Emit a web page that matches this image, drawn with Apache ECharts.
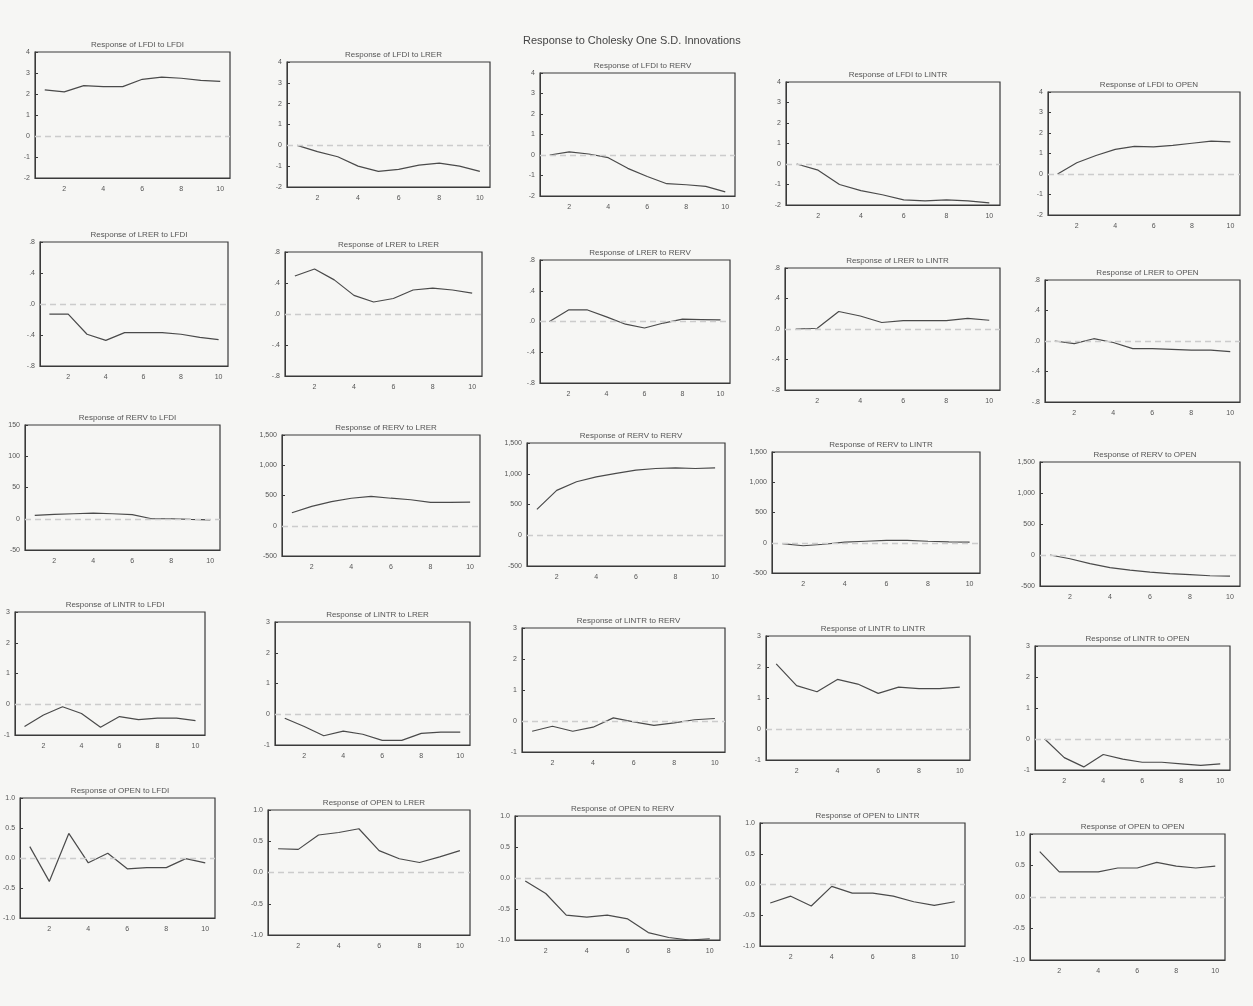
<!DOCTYPE html>
<html>
<head>
<meta charset="utf-8">
<title>Response to Cholesky One S.D. Innovations</title>
<script src="https://cdn.jsdelivr.net/npm/echarts@6/dist/echarts.min.js"></script>
<style>
  html, body { margin: 0; padding: 0; background: #f6f6f4; }
  #main { width: 1253px; height: 1006px; }
</style>
</head>
<body>
<div id="main"></div>
<script>
// periods 1..10
var periods = ['1','2','3','4','5','6','7','8','9','10'];
var variables = ['LFDI', 'LRER', 'RERV', 'LINTR', 'OPEN'];

// responses of LFDI
var lfdi_lfdi  = [2.2, 2.1, 2.4, 2.35, 2.35, 2.7, 2.8, 2.75, 2.65, 2.6];
var lfdi_lrer  = [0.0, -0.3, -0.55, -1.0, -1.25, -1.15, -0.95, -0.85, -1.0, -1.25];
var lfdi_rerv  = [0.0, 0.15, 0.05, -0.13, -0.65, -1.05, -1.4, -1.45, -1.53, -1.8];
var lfdi_lintr = [0.0, -0.3, -1.0, -1.3, -1.5, -1.75, -1.8, -1.75, -1.8, -1.9];
var lfdi_open  = [0.0, 0.55, 0.9, 1.2, 1.35, 1.32, 1.4, 1.5, 1.6, 1.57];
// responses of LRER
var lrer_lfdi  = [-0.13, -0.13, -0.39, -0.47, -0.37, -0.37, -0.37, -0.39, -0.43, -0.46];
var lrer_lrer  = [0.49, 0.58, 0.44, 0.24, 0.155, 0.2, 0.31, 0.335, 0.31, 0.27];
var lrer_rerv  = [0.0, 0.15, 0.15, 0.06, -0.035, -0.085, -0.02, 0.03, 0.025, 0.02];
var lrer_lintr = [0.0, 0.01, 0.23, 0.17, 0.085, 0.11, 0.11, 0.11, 0.14, 0.115];
var lrer_open  = [0.0, -0.035, 0.03, -0.02, -0.1, -0.1, -0.11, -0.12, -0.12, -0.14];
// responses of RERV
var rerv_lfdi  = [5.5, 7, 8, 9, 8, 6.7, 0, 0, -1, -1.7];
var rerv_lrer  = [215, 320, 400, 455, 485, 455, 430, 385, 385, 390];
var rerv_rerv  = [420, 730, 870, 950, 1005, 1060, 1085, 1095, 1085, 1095];
var rerv_lintr = [-15, -50, -25, 10, 25, 40, 40, 25, 15, 10];
var rerv_open  = [0, -60, -140, -205, -245, -275, -300, -315, -335, -340];
// responses of LINTR
var lintr_lfdi  = [-0.72, -0.35, -0.08, -0.3, -0.75, -0.4, -0.5, -0.45, -0.45, -0.53];
var lintr_lrer  = [-0.13, -0.4, -0.7, -0.55, -0.65, -0.85, -0.85, -0.62, -0.58, -0.58];
var lintr_rerv  = [-0.33, -0.17, -0.33, -0.2, 0.1, -0.03, -0.14, -0.06, 0.04, 0.08];
var lintr_lintr = [2.1, 1.4, 1.2, 1.6, 1.45, 1.15, 1.35, 1.3, 1.3, 1.35];
var lintr_open  = [0.0, -0.6, -0.9, -0.5, -0.65, -0.75, -0.75, -0.8, -0.85, -0.8];
// responses of OPEN
var open_lfdi  = [0.19, -0.39, 0.41, -0.08, 0.08, -0.18, -0.16, -0.16, -0.01, -0.08];
var open_lrer  = [0.38, 0.37, 0.6, 0.64, 0.7, 0.35, 0.22, 0.16, 0.25, 0.35];
var open_rerv  = [-0.05, -0.25, -0.6, -0.63, -0.6, -0.66, -0.88, -0.96, -1.0, -0.98];
var open_lintr = [-0.3, -0.19, -0.35, -0.03, -0.14, -0.14, -0.19, -0.28, -0.34, -0.28];
var open_open  = [0.72, 0.4, 0.4, 0.4, 0.46, 0.46, 0.55, 0.49, 0.46, 0.49];

var responses = [
  [lfdi_lfdi, lfdi_lrer, lfdi_rerv, lfdi_lintr, lfdi_open],
  [lrer_lfdi, lrer_lrer, lrer_rerv, lrer_lintr, lrer_open],
  [rerv_lfdi, rerv_lrer, rerv_rerv, rerv_lintr, rerv_open],
  [lintr_lfdi, lintr_lrer, lintr_rerv, lintr_lintr, lintr_open],
  [open_lfdi, open_lrer, open_rerv, open_lintr, open_open]
];

// y scale of each row: [min, max, step]
var rowScale = [[-2, 4, 1], [-0.8, 0.8, 0.4], [-500, 1500, 500], [-1, 3, 1], [-1, 1, 0.5]];
var rerv_lfdi_scale = [-50, 150, 50];

// panel frames [left, top, right, bottom] in page pixels (the scan is a bit skewed)
var frames = [
  [[35, 52, 230, 178], [287, 62, 490, 187], [540, 73, 735, 196], [786, 82, 1000, 205], [1048, 92, 1240, 215]],
  [[40, 242, 228, 366], [285, 252, 482, 376], [540, 260, 730, 383], [785, 268, 1000, 390], [1045, 280, 1240, 402]],
  [[25, 425, 220, 550], [282, 435, 480, 556], [527, 443, 725, 566], [772, 452, 980, 573], [1040, 462, 1240, 586]],
  [[15, 612, 205, 735], [275, 622, 470, 745], [522, 628, 725, 752], [766, 636, 970, 760], [1035, 646, 1230, 770]],
  [[15, 798, 215, 918], [268, 810, 470, 935], [515, 816, 720, 940], [760, 823, 965, 946], [1030, 834, 1225, 960]]
];

function fmtRow(r, c) {
  return function (v) {
    if (r === 1) {
      var s = Math.abs(v).toFixed(1).replace(/^0/, '');
      return (v < 0 ? '-' : '') + s;
    }
    if (r === 2 && c > 0) return v.toLocaleString('en-US');
    if (r === 4) return v.toFixed(1);
    return String(v);
  };
}

var font = '"Liberation Sans Narrow", "Liberation Sans", Arial, sans-serif';
var zeroStyle = { color: '#cccccc', type: [6, 4], width: 1.3 };
var grids = [], xAxes = [], yAxes = [], series = [], titles = [];

titles.push({
  text: 'Response to Cholesky One S.D. Innovations',
  left: 518, top: 30,
  textStyle: { fontFamily: font, fontSize: 11, fontWeight: 'normal', color: '#444' }
});

for (var r = 0; r < 5; r++) {
  for (var c = 0; c < 5; c++) {
    var i = r * 5 + c;
    var f = frames[r][c];
    var sc = (r === 2 && c === 0) ? rerv_lfdi_scale : rowScale[r];
    grids.push({
      left: f[0], top: f[1], width: f[2] - f[0], height: f[3] - f[1],
      show: true, borderColor: '#3a3a3a', borderWidth: 1.2, backgroundColor: 'transparent'
    });
    titles.push({
      text: 'Response of ' + variables[r] + ' to ' + variables[c],
      left: (f[0] + f[2]) / 2, top: f[1] - 16, textAlign: 'center',
      textStyle: { fontFamily: font, fontSize: 8, fontWeight: 'normal', color: '#555' }
    });
    xAxes.push({
      type: 'category', gridIndex: i, data: periods, boundaryGap: true,
      axisLine: { onZero: false, lineStyle: { color: '#3a3a3a' } },
      axisTick: { alignWithLabel: true, interval: 0, inside: true, length: 3, lineStyle: { color: '#3a3a3a' } },
      axisLabel: {
        interval: function (idx) { return idx % 2 === 1; },
        fontFamily: font, fontSize: 7, color: '#555', margin: 8
      },
      splitLine: { show: false }
    });
    yAxes.push({
      type: 'value', gridIndex: i, min: sc[0], max: sc[1], interval: sc[2],
      axisLine: { show: true, onZero: false, lineStyle: { color: '#3a3a3a' } },
      axisTick: { show: true, inside: true, length: 3, lineStyle: { color: '#3a3a3a' } },
      axisLabel: { formatter: fmtRow(r, c), fontFamily: font, fontSize: 7, color: '#555', margin: 5 },
      splitLine: { show: false }
    });
    series.push({
      type: 'line', xAxisIndex: i, yAxisIndex: i,
      data: responses[r][c], symbol: 'none', smooth: false,
      lineStyle: { color: '#4a4a4a', width: 1.2 },
      z: 3,
      markLine: {
        silent: true, symbol: ['none', 'none'], label: { show: false },
        lineStyle: zeroStyle,
        emphasis: { disabled: true },
        data: [{ yAxis: 0 }]
      },
      animation: false
    });
  }
}

var chart = echarts.init(document.getElementById('main'), null, { renderer: 'canvas' });
chart.setOption({
  backgroundColor: '#f6f6f4',
  animation: false,
  title: titles,
  grid: grids,
  xAxis: xAxes,
  yAxis: yAxes,
  series: series
});
</script>
</body>
</html>
